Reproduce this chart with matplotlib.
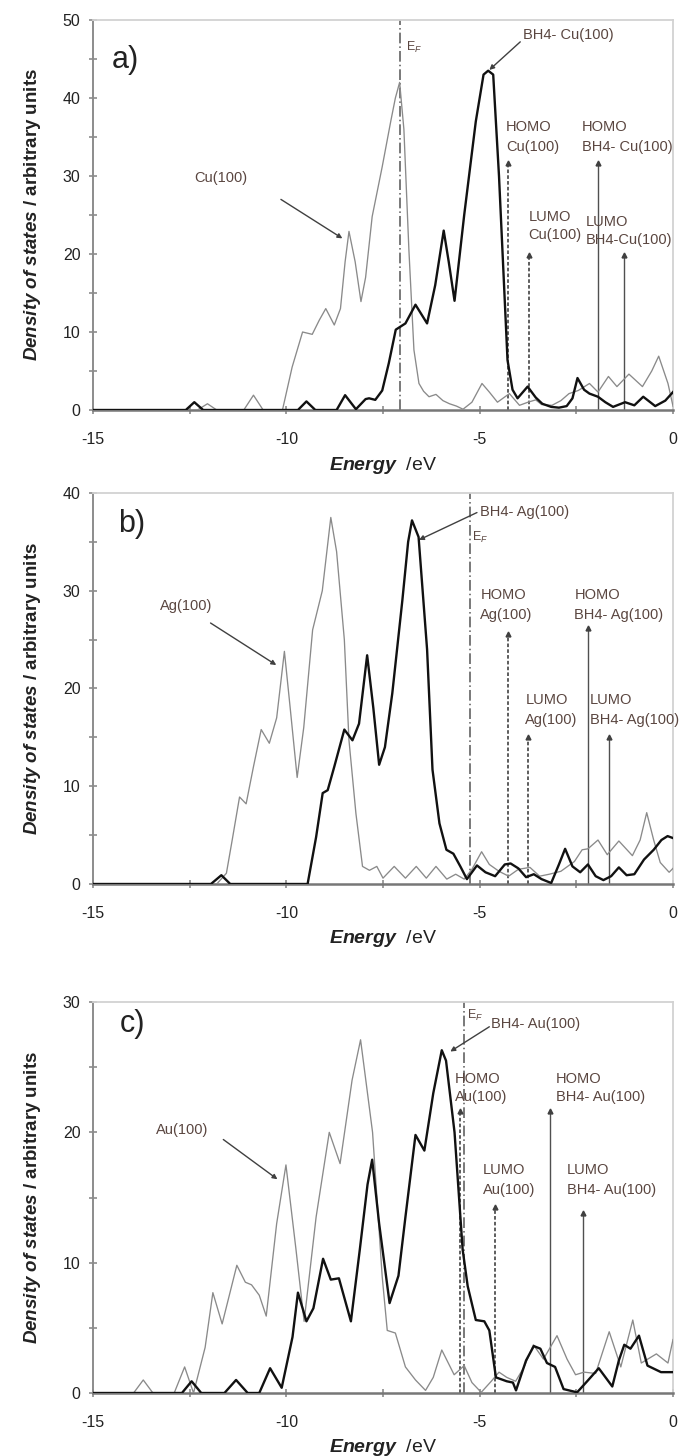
import matplotlib
matplotlib.use('Agg')
import matplotlib.pyplot as plt
from matplotlib.ticker import MultipleLocator

plt.rcParams['font.family'] = ['Liberation Sans', 'DejaVu Sans']
plt.rcParams['axes.unicode_minus'] = False
plt.rcParams['mathtext.fontset'] = 'custom'
plt.rcParams['mathtext.rm'] = 'Liberation Sans'
plt.rcParams['mathtext.it'] = 'Liberation Sans:italic'
plt.rcParams['mathtext.bf'] = 'Liberation Sans:bold'
plt.rcParams['mathtext.bfit'] = 'Liberation Sans:italic:bold'

# ---------------- data ----------------
# Panel a: Cu(100)
cu_energy = [-15, -12.3, -12.04, -11.8, -11.1, -10.85, -10.6, -10.1, -9.85, -9.58, -9.33, -9.15,
             -8.98, -8.76, -8.6, -8.48, -8.38, -8.22, -8.07, -7.95, -7.78, -7.52, -7.3, -7.18,
             -7.07, -6.96, -6.83, -6.7, -6.57, -6.45, -6.31, -6.13, -5.95, -5.78, -5.6, -5.43,
             -5.2, -4.94, -4.75, -4.54, -4.23, -3.97, -3.75, -3.55, -3.4, -3.13, -2.9, -2.69,
             -2.45, -2.16, -1.94, -1.67, -1.45, -1.14, -0.79, -0.55, -0.37, -0.13, 0.0]
cu_dos = [0, 0, 0.8, 0, 0, 1.9, 0, 0, 5.5, 10.0, 9.7, 11.5,
          13.0, 10.9, 13, 19, 22.9, 19, 13.9, 17, 24.8, 31.2, 37, 40,
          42, 36, 20.5, 7.7, 3.4, 2.4, 1.7, 2.0, 1.2, 0.8, 0.5, 0.1,
          1.0, 3.4, 2.3, 1.0, 2.1, 0.6, 1.0, 1.3, 0.7, 0.6, 1.2, 2.1,
          2.5, 3.4, 2.3, 4.3, 3.0, 4.6, 3.0, 5.0, 6.9, 3.4, 0.5]
bh4cu_energy = [-15, -12.6, -12.38, -12.15, -9.7, -9.48, -9.25, -8.7, -8.48, -8.2, -7.95, -7.86,
                -7.7, -7.52, -7.35, -7.17, -6.92, -6.66, -6.36, -6.15, -5.93, -5.8, -5.65, -5.4,
                -5.1, -4.9, -4.78, -4.65, -4.5, -4.28, -4.15, -4.02, -3.76, -3.55, -3.38, -3.15,
                -2.95, -2.75, -2.6, -2.47, -2.3, -2.16, -1.94, -1.75, -1.55, -1.24, -1.0, -0.77,
                -0.46, -0.2, 0.0]
bh4cu_dos = [0, 0, 1.0, 0, 0, 1.1, 0, 0, 1.9, 0.1, 1.4, 1.5,
             1.3, 2.5, 6, 10.3, 11.1, 13.5, 11.1, 16, 23, 19, 14, 25,
             37, 43, 43.5, 43, 30, 6.4, 2.6, 1.5, 3.0, 1.6, 0.8, 0.4,
             0.3, 0.5, 1.5, 4.1, 2.6, 2.1, 1.7, 1.0, 0.4, 1.0, 0.6, 1.7,
             0.5, 1.2, 2.3]

# Panel b: Ag(100)
ag_energy = [-15, -11.8, -11.55, -11.4, -11.21, -11.04, -10.85, -10.65, -10.44, -10.25, -10.05,
             -9.9, -9.72, -9.55, -9.32, -9.07, -8.85, -8.7, -8.5, -8.38, -8.2, -8.03, -7.85,
             -7.66, -7.5, -7.21, -6.92, -6.64, -6.38, -6.13, -5.85, -5.62, -5.4, -5.2, -4.95,
             -4.75, -4.5, -4.25, -4.0, -3.7, -3.45, -3.2, -2.9, -2.55, -2.35, -2.2, -1.94,
             -1.7, -1.4, -1.05, -0.85, -0.68, -0.5, -0.33, -0.1, 0.0]
ag_dos = [0, 0, 1.1, 4.5, 8.9, 8.2, 12, 15.8, 14.4, 17, 23.8,
          18, 10.9, 16, 26, 30, 37.5, 34, 25, 14.7, 7.2, 1.8, 1.4,
          1.8, 0.6, 1.8, 0.6, 1.8, 0.6, 1.8, 0.5, 1.0, 0.5, 1.5, 3.3,
          2.0, 1.3, 0.8, 1.5, 1.7, 0.8, 1.0, 1.3, 2.3, 3.5, 3.6, 4.5,
          3.0, 4.4, 2.9, 4.5, 7.3, 4.5, 2.2, 1.2, 1.6]
bh4ag_energy = [-15, -11.95, -11.68, -11.45, -9.45, -9.23, -9.06, -8.93, -8.76, -8.5, -8.29,
                -8.12, -7.91, -7.75, -7.6, -7.45, -7.26, -7.0, -6.85, -6.75, -6.58, -6.36,
                -6.22, -6.04, -5.86, -5.68, -5.5, -5.33, -5.07, -4.85, -4.6, -4.35, -4.2, -4.0,
                -3.8, -3.6, -3.4, -3.15, -2.95, -2.79, -2.6, -2.4, -2.2, -2.0, -1.8, -1.6,
                -1.4, -1.2, -1.0, -0.75, -0.5, -0.3, -0.14, 0.0]
bh4ag_dos = [0, 0, 0.9, 0, 0, 4.8, 9.3, 9.6, 12, 15.8, 14.7,
             16.4, 23.4, 18, 12.2, 14, 19.5, 29, 35, 37.2, 35.5, 24,
             11.7, 6.2, 3.5, 3.1, 1.8, 0.5, 1.9, 1.2, 0.8, 2.0, 2.1, 1.6,
             0.7, 1.0, 0.5, 0.1, 2.0, 3.6, 1.8, 1.2, 2.0, 0.8, 0.4, 0.8,
             1.7, 0.9, 1.0, 2.5, 3.5, 4.5, 4.9, 4.7]

# Panel c: Au(100)
au_energy = [-15, -13.95, -13.7, -13.45, -12.9, -12.63, -12.4, -12.1, -11.9, -11.66, -11.28,
             -11.06, -10.9, -10.7, -10.52, -10.25, -10.01, -9.75, -9.54, -9.23, -8.89, -8.61,
             -8.3, -8.08, -7.77, -7.52, -7.39, -7.18, -6.92, -6.66, -6.4, -6.2, -5.98, -5.66,
             -5.40, -5.2, -4.96, -4.7, -4.5, -4.3, -4.07, -3.85, -3.61, -3.35, -3.0, -2.74,
             -2.52, -2.3, -2.0, -1.65, -1.35, -1.04, -0.82, -0.43, -0.13, 0.0]
au_dos = [0, 0, 1.0, 0, 0, 2.0, 0, 3.5, 7.7, 5.3, 9.8,
          8.5, 8.3, 7.5, 5.9, 13, 17.5, 11, 5.5, 13.5, 20, 17.6,
          24, 27.1, 20, 8.9, 4.8, 4.6, 2.0, 1.0, 0.2, 1.2, 3.3, 1.4,
          2.1, 0.8, 0.05, 0.9, 1.6, 1.2, 0.9, 2.0, 3.7, 2.6, 4.4, 2.6,
          1.4, 1.6, 1.5, 4.7, 2.0, 5.6, 2.3, 3.0, 2.3, 4.1]
bh4au_energy = [-15, -12.7, -12.45, -12.2, -11.6, -11.3, -11.0, -10.7, -10.42, -10.12, -9.84,
                -9.7, -9.48, -9.3, -9.05, -8.85, -8.64, -8.33, -8.1, -7.9, -7.78, -7.6, -7.33,
                -7.1, -6.92, -6.66, -6.43, -6.2, -5.98, -5.87, -5.65, -5.44, -5.31, -5.1, -4.88,
                -4.75, -4.58, -4.3, -4.14, -4.06, -3.8, -3.6, -3.43, -3.26, -3.05, -2.83, -2.48,
                -2.22, -1.92, -1.57, -1.4, -1.26, -1.1, -0.88, -0.66, -0.31, 0.0]
bh4au_dos = [0, 0, 0.9, 0, 0, 1.0, 0, 0, 1.9, 0.4, 4.3,
             7.7, 5.5, 6.5, 10.3, 8.7, 8.8, 5.5, 11, 16, 17.9, 13, 6.9,
             9, 13.5, 19.8, 18.6, 23, 26.3, 25.5, 20, 11, 8.2, 5.6, 5.5,
             4.8, 1.2, 0.9, 0.8, 0.2, 2.5, 3.6, 3.4, 2.3, 2.0, 0.3, 0.05,
             0.9, 1.9, 0.5, 2.5, 3.7, 3.4, 4.4, 2.1, 1.6, 1.6]

panel_letters = ['a)', 'b)', 'c)']
metal_names = ['Cu(100)', 'Ag(100)', 'Au(100)']
fermi_levels = [-7.05, -5.25, -5.4]
homo_metal = [-4.26, -4.28, -5.51]
lumo_metal = [-3.73, -3.75, -4.61]
homo_bh4 = [-1.95, -2.2, -3.19]
lumo_bh4 = [-1.26, -1.65, -2.33]
y_max = [50, 40, 30]
x_ticks = [-15, -10, -5, 0]

# ---------------- style ----------------
W, H = 681, 1456
fig = plt.figure(figsize=(W / 100, H / 100), dpi=100)

GRAY = '#8a8a8a'
TXT = '#5a4640'
AXC = '#8c8c8c'

# axes boxes in pixels: (top, bottom)
boxes = [(20, 410), (493, 884), (1002, 1393)]
x_left, x_right = 93, 673

curves = [
    (cu_energy, cu_dos, bh4cu_energy, bh4cu_dos),
    (ag_energy, ag_dos, bh4ag_energy, bh4ag_dos),
    (au_energy, au_dos, bh4au_energy, bh4au_dos),
]

# layout for annotations per panel
layouts = [
    dict(letter=(-14.17, 44.9),
         metal_txt=(-11.69, 29.7), metal_arr=((-10.14, 27.0), (-8.55, 22.0)),
         bh4_txt=(-3.89, 48.1), bh4_arr=((-3.95, 47.2), (-4.75, 43.6)),
         bh4_label='BH4- Cu(100)',
         ef=(-6.91, 46.5),
         homo_m=(-4.32, 36.3, 33.7), lumo_m=(-3.74, 24.8, 22.4),
         homo_b=(-2.36, 36.3, 33.7, 'BH4- Cu(100)'), lumo_b=(-2.25, 24.1, 21.8, 'BH4-Cu(100)'),
         tops=(31.7, 19.9, 31.7, 19.9)),
    dict(letter=(-13.99, 36.8),
         metal_txt=(-12.58, 28.4), metal_arr=((-11.96, 26.7), (-10.26, 22.4)),
         bh4_txt=(-5.0, 38.1), bh4_arr=((-5.07, 38.0), (-6.57, 35.2)),
         bh4_label='BH4- Ag(100)',
         ef=(-5.2, 35.5),
         homo_m=(-4.98, 29.6, 27.5), lumo_m=(-3.82, 18.8, 16.8),
         homo_b=(-2.55, 29.6, 27.5, 'BH4- Ag(100)'), lumo_b=(-2.15, 18.8, 16.8, 'BH4- Ag(100)'),
         tops=(25.6, 15.0, 26.2, 15.0)),
    dict(letter=(-13.98, 28.3),
         metal_txt=(-12.7, 20.2), metal_arr=((-11.63, 19.45), (-10.23, 16.4)),
         bh4_txt=(-4.70, 28.3), bh4_arr=((-4.75, 28.1), (-5.76, 26.2)),
         bh4_label='BH4- Au(100)',
         ef=(-5.34, 29.0),
         homo_m=(-5.65, 24.1, 22.7), lumo_m=(-4.92, 17.1, 15.6),
         homo_b=(-3.02, 24.1, 22.7, 'BH4- Au(100)'), lumo_b=(-2.74, 17.1, 15.6, 'BH4- Au(100)'),
         tops=(21.6, 14.3, 21.6, 13.8)),
]

FS = 10.5
for i in range(3):
    top, bot = boxes[i]
    ax = fig.add_axes([x_left / W, 1 - bot / H, (x_right - x_left) / W, (bot - top) / H])
    e1, d1, e2, d2 = curves[i]
    L = layouts[i]
    ym = y_max[i]

    ax.plot(e1, d1, color=GRAY, lw=0.95, zorder=3, solid_joinstyle='round')
    ax.plot(e2, d2, color='#111111', lw=1.7, zorder=4, solid_joinstyle='round')

    ax.set_xlim(-15, 0)
    ax.set_ylim(0, ym)
    ax.set_xticks(x_ticks)
    ax.xaxis.set_minor_locator(MultipleLocator(2.5))
    ax.yaxis.set_major_locator(MultipleLocator(10))
    ax.yaxis.set_minor_locator(MultipleLocator(5))
    ax.tick_params(axis='both', which='both', direction='inout', color=AXC, width=1.2)
    ax.tick_params(axis='both', which='major', length=6, labelsize=11.5, labelcolor='#222222')
    ax.tick_params(axis='both', which='minor', length=6)
    ax.tick_params(axis='x', which='major', pad=13)
    ax.tick_params(axis='y', which='major', pad=6)
    for s in ['top', 'right']:
        ax.spines[s].set_color('#d2d2d2')
        ax.spines[s].set_linewidth(1.3)
    ax.spines['left'].set_color(AXC)
    ax.spines['left'].set_linewidth(1.4)
    ax.spines['bottom'].set_color('#777777')
    ax.spines['bottom'].set_linewidth(1.8)

    # Fermi level
    ax.plot([fermi_levels[i]] * 2, [0, ym], color='#555555', lw=1.1,
            ls=(0, (7, 2, 1, 2)), zorder=2)
    ax.text(L['ef'][0], L['ef'][1], r'E$_F$', fontsize=9, color=TXT, ha='left', va='center')

    # HOMO / LUMO arrows
    t = L['tops']
    for xe, yt, dotted in [(homo_metal[i], t[0], True), (lumo_metal[i], t[1], True),
                           (homo_bh4[i], t[2], False), (lumo_bh4[i], t[3], False)]:
        ax.plot([xe, xe], [0, yt], color='#505050', lw=1.3 if dotted else 1.0,
                ls=(0, (2, 1.2)) if dotted else '-', zorder=2)
        ax.plot([xe], [yt], marker='^', ms=3.5, color='#404040', zorder=2)

    # labels
    hm = L['homo_m']; lm = L['lumo_m']; hb = L['homo_b']; lb = L['lumo_b']
    for (x, y, s) in [(hm[0], hm[1], 'HOMO'), (hm[0], hm[2], metal_names[i]),
                      (lm[0], lm[1], 'LUMO'), (lm[0], lm[2], metal_names[i]),
                      (hb[0], hb[1], 'HOMO'), (hb[0], hb[2], hb[3]),
                      (lb[0], lb[1], 'LUMO'), (lb[0], lb[2], lb[3])]:
        ax.text(x, y, s, fontsize=FS, color=TXT, ha='left', va='center', clip_on=False)

    ax.text(L['metal_txt'][0], L['metal_txt'][1], metal_names[i], fontsize=FS, color=TXT,
            ha='center', va='center')
    ax.text(L['bh4_txt'][0], L['bh4_txt'][1], L['bh4_label'], fontsize=FS, color=TXT,
            ha='left', va='center')
    for (a, b) in [L['metal_arr'], L['bh4_arr']]:
        ax.annotate('', xy=b, xytext=a,
                    arrowprops=dict(arrowstyle='-|>', color='#404040', lw=1.0,
                                    mutation_scale=7, shrinkA=0, shrinkB=0))

    ax.text(L['letter'][0], L['letter'][1], panel_letters[i], fontsize=22, color='#222222',
            ha='center', va='center')

    # axis titles
    ax.text(0.5, -55 / (bot - top), r'$\mathbfit{Energy}$  /eV', transform=ax.transAxes,
            fontsize=14, ha='center', va='center', color='#222222')
    ax.text(-61 / (x_right - x_left), 0.5, r'$\mathbfit{Density\ of\ states}$ / arbitrary units',
            transform=ax.transAxes, fontsize=13.5, fontweight='bold', rotation=90,
            ha='center', va='center', color='#222222')

fig.savefig('out.png', dpi=100)
